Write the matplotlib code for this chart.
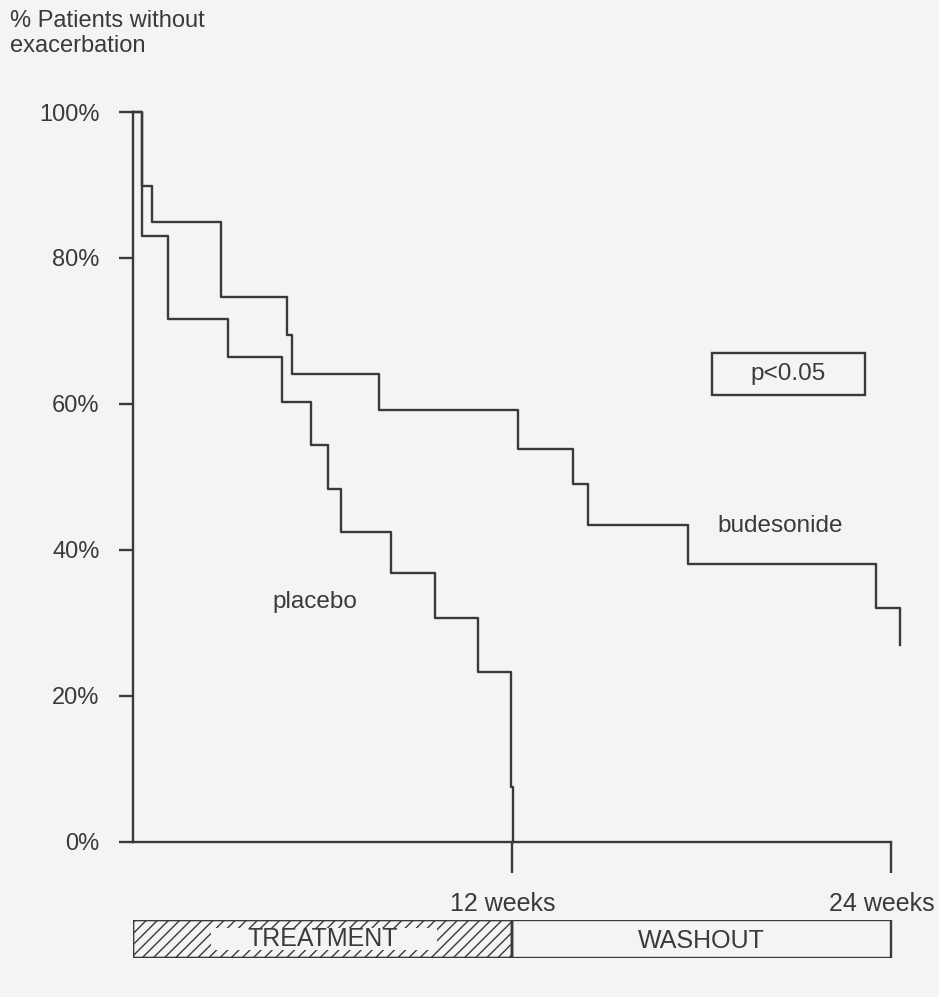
import matplotlib
matplotlib.use('Agg')
import matplotlib.pyplot as plt
import matplotlib.transforms as mtransforms
from matplotlib.patches import Rectangle

plt.rcParams['font.family'] = ['Liberation Sans', 'DejaVu Sans']
plt.rcParams['hatch.linewidth'] = 1.0

# time (weeks) and % patients without exacerbation
bud_weeks = [0, 0.285, 0.60, 2.79, 4.88, 5.03, 7.79, 12.19, 13.93, 14.41, 17.57, 23.53, 24.29]
bud_pct = [100, 89.8, 85.0, 74.6, 69.5, 64.1, 59.2, 53.9, 49.1, 43.4, 38.1, 32.1, 27.0]
pla_weeks = [0, 0.285, 1.11, 3.01, 4.72, 5.64, 6.17, 6.59, 8.17, 9.56, 10.92, 11.97, 12.03]
pla_pct = [100, 83.0, 71.6, 66.4, 60.3, 54.4, 48.4, 42.4, 36.8, 30.7, 23.3, 7.5, 0]

y_ticks = [0, 20, 40, 60, 80, 100]
y_labels = ['0%', '20%', '40%', '60%', '80%', '100%']
x_ticks = [12, 24]
x_labels = ['12 weeks', '24 weeks']

ink = '#3a3a3a'
paper = '#f4f4f2'

fig = plt.figure(figsize=(9.39, 9.97), dpi=100, facecolor=paper)
ax = fig.add_axes([0.1416, 0.1555, 0.841, 0.7468])
ax.set_facecolor('none')
ax.set_xlim(0, 25)
ax.set_ylim(0, 102)

ax.step(bud_weeks, bud_pct, where='post', color=ink, lw=1.7, clip_on=False)
ax.step(pla_weeks, pla_pct, where='post', color=ink, lw=1.7, clip_on=False)

for s in ['top', 'right']:
    ax.spines[s].set_visible(False)
ax.spines['left'].set_bounds(0, 100)
ax.spines['bottom'].set_bounds(0, 24)
for s in ['left', 'bottom']:
    ax.spines[s].set_color(ink)
    ax.spines[s].set_linewidth(1.7)

ax.set_yticks(y_ticks)
ax.set_yticklabels(y_labels)
ax.set_xticks(x_ticks)
ax.set_xticklabels(x_labels)
ax.tick_params(axis='y', direction='out', length=10, width=1.7, color=ink,
               pad=14, labelsize=17, labelcolor=ink)
ax.tick_params(axis='x', direction='out', length=22, width=1.7, color=ink,
               pad=14, labelsize=18, labelcolor=ink)
# week labels sit a bit left of their ticks in the original
shift = mtransforms.ScaledTranslation(-9 / 100, 0, fig.dpi_scale_trans)
for lab in ax.get_xticklabels():
    lab.set_transform(lab.get_transform() + shift)

ax.text(5.76, 32.9, 'placebo', ha='center', va='center', fontsize=17.5, color=ink)
ax.text(20.49, 43.3, 'budesonide', ha='center', va='center', fontsize=17.5, color=ink)
ax.add_patch(Rectangle((18.33, 61.3), 4.85, 5.7, fill=False, ec=ink, lw=1.7))
ax.text(20.75, 64.1, 'p<0.05', ha='center', va='center', fontsize=17.5, color=ink)

fig.text(10 / 939, 1 - 10 / 997, '% Patients without\nexacerbation', ha='left', va='top',
         fontsize=17, color=ink, linespacing=1.15)

# treatment / washout bar
bx = fig.add_axes([0.1416, 0.0391, 0.841, 0.0381])
bx.set_xlim(0, 25)
bx.set_ylim(0, 1)
bx.axis('off')
bx.add_patch(Rectangle((0, 0), 12, 1, fc='none', ec=ink, lw=1.7, hatch='///'))
bx.add_patch(Rectangle((2.46, 0.21), 7.18, 0.58, fc=paper, ec='none'))
bx.add_patch(Rectangle((0, 0), 12, 1, fc='none', ec=ink, lw=1.7))
bx.add_patch(Rectangle((12, 0), 12, 1, fc='none', ec=ink, lw=1.7))
bx.text(6, 0.5, 'TREATMENT', ha='center', va='center', fontsize=18, color=ink)
bx.text(18, 0.45, 'WASHOUT', ha='center', va='center', fontsize=18, color=ink)

fig.savefig('out.png', dpi=100, facecolor=paper)
